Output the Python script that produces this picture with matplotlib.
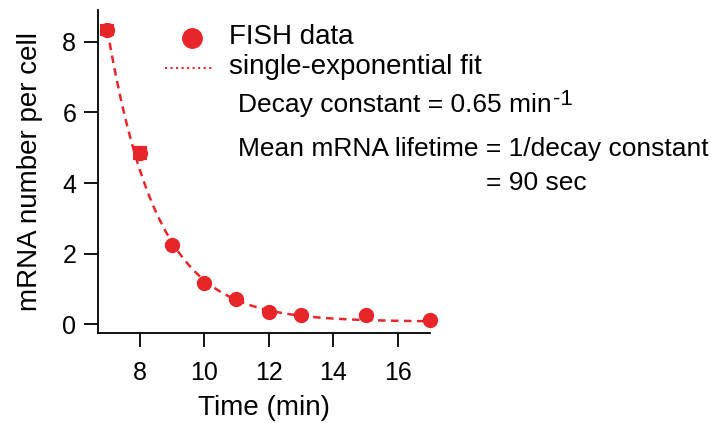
import numpy as np
import matplotlib
matplotlib.use("Agg")
import matplotlib.pyplot as plt

# FISH data
time_min = [7, 8, 9, 10, 11, 12, 13, 15, 17]
mrna_per_cell = [8.32, 4.86, 2.25, 1.16, 0.71, 0.34, 0.28, 0.26, 0.12]
mrna_err = [0.12, 0.14, 0.0, 0.0, 0.0, 0.0, 0.0, 0.0, 0.0]

# single-exponential fit parameters
fit_amp = 8.25
fit_k = 0.65
fit_offset = 0.08

red = "#e8262a"
plt.rcParams["font.family"] = ["Liberation Sans", "DejaVu Sans"]

fig = plt.figure(figsize=(7.18, 4.23), dpi=100)
ax = fig.add_axes([0.137, 0.212, 0.462, 0.765])

t = np.linspace(7, 17, 200)
ax.plot(t, fit_amp * np.exp(-fit_k * (t - 7)) + fit_offset,
        ls=(0, (3, 2.2)), color=red, lw=1.8, clip_on=False)
ax.errorbar(time_min, mrna_per_cell, yerr=mrna_err, fmt="o", ms=10,
            color=red, ecolor=red, elinewidth=3, capsize=5, capthick=3,
            clip_on=False)

ax.set_xlim(6.72, 17.0)
ax.set_ylim(-0.25, 8.9)
ax.set_xticks([8, 10, 12, 14, 16])
ax.set_yticks([0, 2, 4, 6, 8])
for s in ["top", "right"]:
    ax.spines[s].set_visible(False)
for s in ["left", "bottom"]:
    ax.spines[s].set_linewidth(1.3)
ax.tick_params(direction="out", length=10, width=1.3, labelsize=18)
ax.tick_params(axis="y", pad=6)
ax.tick_params(axis="x", pad=10)
ax.set_xlabel("Time (min)", fontsize=20, labelpad=7)
ax.set_ylabel("mRNA number per cell", fontsize=20, labelpad=14)

# legend and annotation text, placed in figure pixels
def fx(px):
    return px / 718

def fy(py):
    return 1 - py / 423

fig.lines.append(plt.Line2D([fx(192)], [fy(38)], marker="o", ms=14,
                            color=red, transform=fig.transFigure))
fig.lines.append(plt.Line2D([fx(165), fx(213)], [fy(68), fy(68)], ls=":",
                            lw=1.5, color=red, transform=fig.transFigure))
fig.text(fx(229), fy(44), "FISH data", fontsize=20, va="baseline")
fig.text(fx(229), fy(74), "single-exponential fit", fontsize=20, va="baseline")
decay = fig.text(fx(238), fy(112), "Decay constant = 0.65 min", fontsize=19, va="baseline")
fig.text(fx(238), fy(156), "Mean mRNA lifetime = 1/decay constant", fontsize=19, va="baseline")

# superscript after "min" and "= 90 sec" under the first "="
renderer = fig.canvas.get_renderer()
decay_end = decay.get_window_extent(renderer).x1
tmp = fig.text(fx(238), fy(156), "Mean mRNA lifetime ", fontsize=19, va="baseline")
eq_x = tmp.get_window_extent(renderer).x1
tmp.remove()
fig.text(decay_end / 718 + 0.002, fy(105), "-1", fontsize=16, va="baseline")
fig.text(eq_x / 718, fy(190), "= 90 sec", fontsize=19, va="baseline")

fig.savefig("out.png", dpi=100, facecolor="white")
